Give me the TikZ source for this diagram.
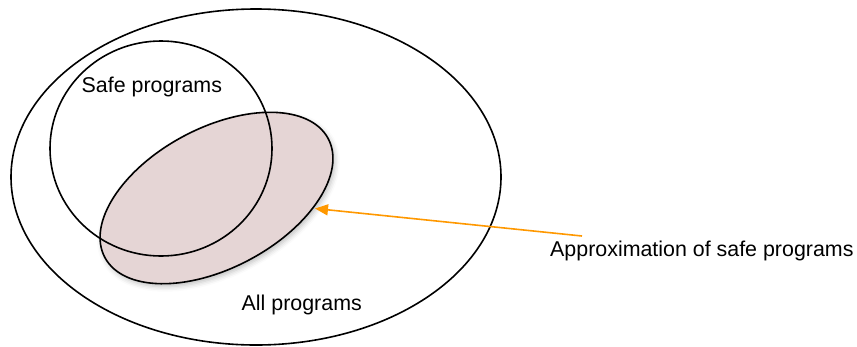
\documentclass[tikz,border=0pt]{standalone}
\usepackage{fontspec}
\setmainfont{Liberation Sans}
\usetikzlibrary{shapes.geometric,arrows.meta,shadows.blur}
\definecolor{approxfill}{RGB}{229,213,213}
\definecolor{arroworange}{RGB}{255,152,0}
\tikzset{
  setline/.style={draw=black, line width=1.6pt, ellipse, inner sep=0pt},
  lbl/.style={anchor=base west, inner sep=0pt, font=\fontsize{21.4}{25}\selectfont},
  pointer/.style={draw=arroworange, line width=1.6pt, -{Triangle[length=13pt,width=11pt]}}
}
\begin{document}
\begin{tikzpicture}[x=1pt,y=-1pt]
\useasboundingbox (0,0) rectangle (857,346);
% All programs
\node[setline, minimum width=490pt, minimum height=336pt] (all) at (256,177) {};
% Approximation (filled, rotated)
\node[setline, fill=approxfill, minimum width=253pt, minimum height=140pt, rotate=28,
      blur shadow={shadow xshift=2pt, shadow yshift=-3pt, shadow blur radius=5pt, shadow opacity=25}] (approx) at (216.5,198) {};
% Safe programs circle
\node[setline, minimum width=222pt, minimum height=215pt] (safe) at (161,148.5) {};
% Labels
\node[lbl] (safelbl) at (81.5,92) {Safe programs};
\node[lbl] (alllbl) at (241.5,310) {All programs};
\node[lbl] (approxlbl) at (550,256) {Approximation of safe programs};
% Arrow
\coordinate (arrstart) at (582,236);
\coordinate (arrtip) at (315,208.5);
\draw[pointer] (arrstart) -- (arrtip);
\end{tikzpicture}
\end{document}
